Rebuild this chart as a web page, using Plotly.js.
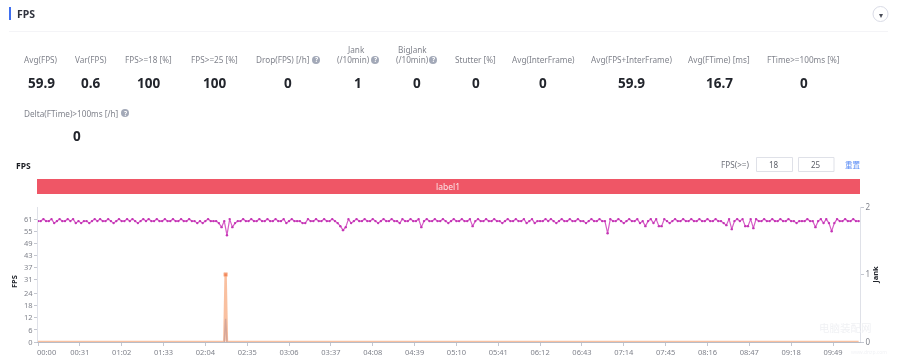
<!DOCTYPE html>
<html>
<head>
<meta charset="utf-8">
<script src="https://cdn.plot.ly/plotly-3.0.1.min.js"></script>
<style>
html,body{margin:0;padding:0;background:#fff;overflow:hidden}
#chart{width:900px;height:358px;filter:blur(0.4px)}
</style>
</head>
<body>
<div id="chart"></div>
<script>
// ---------- data ----------
const fpsStepSeconds = 2;
const fpsValues = [
60,60,61,60,60,61,59,60,61,60,60,61,60,61,59,
60,59,60,60,59,60,61,60,61,60,60,61,60,59,60,
61,60,60,61,60,61,60,59,60,61,60,61,60,60,61,
60,60,61,60,60,61,60,60,61,60,60,61,60,60,59,
60,59,60,61,60,60,60,59,57,60,53,61,57,59,60,
60,61,60,60,61,60,60,61,60,60,61,60,60,61,60,
60,61,59,60,61,60,60,60,59,59,61,60,60,61,60,
60,61,60,60,61,60,59,57.5,55.5,57,61,59,60,61,60,
60,61,60,60,61,60,59,60,61,60,60,61,60,60,59,
61,60,60,61,60,60,61,57,60,61,60,60,61,60,60,
61,60,59,60,61,60,60,61,60,60,61,57.5,60,61,60,
60,61,60,60,61,60,60,59,60,61,60,60,61,60,60,
61,59,60,61,59,60,60,60,61,60,61,60,59,60,61,
60,60,61,60,60,61,60,60,59,60,61,60,60,61,60,
60,54,61,60,60,61,60,59,60,61,60,60,61,59,60,
57.5,60,61,59,61,57.5,57.5,61,60,59,60,61,60,60,61,
60,60,61,60,60,61,60,60,61,60,60,61,60,60,59,
58,61,56,60,61,60,61,57.5,57.5,61,56.5,61,60,60,61,
60,60,61,60,60,61,60,60,61,60,60,59,60,60,60,
61,60,60,57,60,61,59,61,59,55,59,61,60,60,61,
60,60,61,60,60
];
const jankTimes = [0,138,139,140,608];
const jankValues = [0,0,1,0,0];
const blueTimes = [138,139,140];
const blueValues = [0,11.5,0];
const xTickSeconds = [0,31,62,93,124,155,186,217,248,279,310,341,372,403,434,465,496,527,558,589];
const xTickLabels = ['00:00','00:31','01:02','01:33','02:04','02:35','03:06','03:37','04:08','04:39','05:10','05:41','06:12','06:43','07:14','07:45','08:16','08:47','09:18','09:49'];
const yTicks = [0,6,12,18,24,31,37,43,49,55,61];
const y2Ticks = [0,1,2];
const rowOneNames = ['Avg(FPS)','Var(FPS)','FPS>=18 [%]','FPS>=25 [%]','Drop(FPS) [/h]','(/10min)','(/10min)','Stutter [%]','Avg(InterFrame)','Avg(FPS+InterFrame)','Avg(FTime) [ms]','FTime>=100ms [%]'];
const rowOneValues = ['59.9','0.6','100','100','0','1','0','0','0','59.9','16.7','0'];
const deltaName = 'Delta(FTime)>100ms [/h]';
const deltaValue = '0';
const thresholds = ['18','25'];

// ---------- pixel helpers (plot box: x 38..860, y 207..342) ----------
const xp = px => (px-38)/822;
const yp = py => (342-py)/135;
const annotations = [], shapes = [];
const FONT = '"Noto Sans","Open Sans",sans-serif';
function txt(text,x,y,size,color,bold,anchor,fam,angle){
  annotations.push({text:bold?'<b>'+text+'</b>':text,x:xp(x),y:yp(y),xref:'paper',yref:'paper',showarrow:false,
    xanchor:anchor||'center',yanchor:'middle',borderpad:0,textangle:angle||0,font:{size:size,color:color,family:fam||FONT}});
}
function rect(x0,y0,x1,y1,fill,line){
  shapes.push({type:'rect',xref:'paper',yref:'paper',x0:xp(x0),x1:xp(x1),y0:yp(y0),y1:yp(y1),
    fillcolor:fill,line:{color:line||fill,width:line?1:0},layer:'below'});
}
function circ(cx,cy,r,fill,line){
  shapes.push({type:'circle',xref:'paper',yref:'paper',x0:xp(cx-r),x1:xp(cx+r),y0:yp(cy-r),y1:yp(cy+r),
    fillcolor:fill,line:{color:line||fill,width:line?1:0},layer:'below'});
}
function help(cx,cy){ circ(cx,cy,4,'#a3a9b8'); txt('?',cx,cy,6.5,'#ffffff',true); }

// header
rect(9,7,11,20,'#3f6ff0');
txt('FPS',16,14,10.5,'#30333d',true,'left');
rect(9,31,888,31.8,'#f1f1f4');
circ(880.5,14,7.5,'#ffffff','#d9dbe6');
txt('▾',880.5,14,8,'#4a4d58');

// stat row
const GREY = '#80838c', DARK = '#22252c';
const nameCenters = [41.3,90.7,148,214,283,353,412,475.7,543,631,718.7,803];
const valueCenters = [41.5,91,148,214,287.5,357.5,417,475.7,543,631,719,804];
rowOneNames.forEach((n,i)=>txt(n,nameCenters[i],60,8.2,GREY));
rowOneValues.forEach((v,i)=>txt(v,valueCenters[i],83,13.5,DARK,true));
txt('Jank',356,49.5,8.2,GREY);
txt('BigJank',412,49.5,8.2,GREY);
help(316,60); help(375,60); help(433,60);
txt(deltaName,71.5,113,8.2,GREY);
help(125,113);
txt(deltaValue,76.7,136,13.5,DARK,true);

// chart head
txt('FPS',23,165.5,8.5,'#1c1e24',true);
txt('FPS(>=)',735,164,8.2,'#70737c');
rect(756.5,157.5,792.5,171.5,'#ffffff','#dfe1e8');
rect(798.5,157.5,834,171.5,'#ffffff','#dfe1e8');
txt(thresholds[0],774,164.5,8,'#5c5f68');
txt(thresholds[1],816,164.5,8,'#5c5f68');
txt('重置',853,164.5,7.5,'#5a8cf5',false,'center','"Noto Sans CJK SC"');

// label band
rect(37,179,860,194,'#ef5666');
txt('label1',448,186,8.5,'#fbe4e6');

// first tick label sits to the right of its tick; FPS axis title sits below centre
txt(xTickLabels[0],46.5,351.5,7.5,'#80838c');
txt('FPS',14,282,7.5,'#22252c',true,'center',FONT,-90);

// watermark (very faint)
txt('电脑装配网',845,327,10.5,'#f0f1f4',false,'center','"Noto Sans CJK SC"');
txt('www.dnzp.com',850,352,5,'#f1f2f5',false,'left');

const fpsTimes = fpsValues.map((_,i)=>i*fpsStepSeconds);
const traces = [
  {x:jankTimes,y:jankValues,yaxis:'y2',type:'scatter',mode:'lines+markers',name:'Jank',cliponaxis:false,
   line:{color:'rgba(247,165,120,0.7)',width:2.4},
   marker:{color:'#f0632c',size:jankValues.map(v=>v>0?3.5:0),symbol:'square'},hoverinfo:'skip'},
  {x:blueTimes,y:blueValues,type:'scatter',mode:'lines',name:'Blue',cliponaxis:false,
   line:{color:'rgba(110,150,225,0.8)',width:1.4},hoverinfo:'skip'},
  {x:fpsTimes,y:fpsValues,type:'scatter',mode:'lines+markers',name:'FPS',
   line:{color:'#d65cc6',width:1.2},marker:{color:'#c435b5',size:2.4},hoverinfo:'skip'}
];
const layout = {
  width:900,height:358,showlegend:false,paper_bgcolor:'#ffffff',plot_bgcolor:'#ffffff',
  margin:{l:38,r:40,t:207,b:16,pad:0},font:{family:FONT,color:'#80838c',size:7.5},
  xaxis:{range:[0,609],tickmode:'array',tickvals:xTickSeconds,ticktext:xTickLabels.map((t,i)=>i===0?'':t),
    showgrid:false,zeroline:false,showline:true,linecolor:'#b9bcc6',linewidth:1,ticks:'outside',ticklen:3,tickcolor:'#c4c7d0',
    tickfont:{size:7.5,color:'#80838c'},tickangle:0,layer:'below traces'},
  yaxis:{range:[0,67],tickmode:'array',tickvals:yTicks,ticktext:yTicks.map(String),
    showgrid:false,zeroline:false,showline:true,linecolor:'#dfe1e8',linewidth:1,ticks:'outside',ticklen:3,tickcolor:'#c4c7d0',
    tickfont:{size:7.5,color:'#80838c'},layer:'below traces'},
  yaxis2:{range:[0,2],overlaying:'y',side:'right',tickmode:'array',tickvals:y2Ticks,ticktext:y2Ticks.map(String),
    showgrid:false,zeroline:false,showline:true,linecolor:'#dfe1e8',linewidth:1,ticks:'outside',ticklen:3,tickcolor:'#c4c7d0',
    tickfont:{size:8,color:'#80838c'},title:{text:'<b>Jank</b>',font:{size:7.5,color:'#22252c'},standoff:3},layer:'below traces'},
  annotations:annotations,shapes:shapes
};
Plotly.newPlot('chart',traces,layout,{displayModeBar:false,staticPlot:true});
</script>
</body>
</html>
